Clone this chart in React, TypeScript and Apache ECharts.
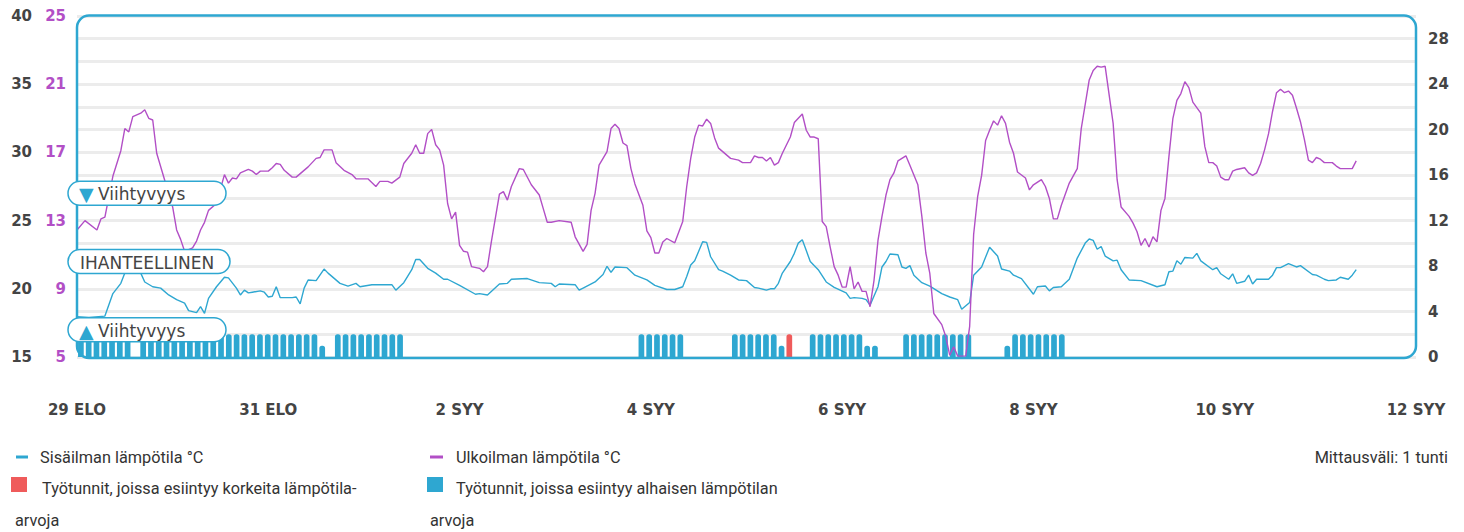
import React, { useEffect, useRef } from 'react';
import * as echarts from 'echarts';

// ---------- data ----------
const MONTH_ABBR = ['TAM', 'HEL', 'MAA', 'HUH', 'TOU', 'KES', 'HEI', 'ELO', 'SYY', 'LOK', 'MAR', 'JOU'];
const START_DATE = { year: 2023, month: 7, day: 29 }; // 29 ELO 00:00
const X_RANGE_HOURS = 336; // 14 days
const X_TICK_HOURS = 48;

// [hours since start, °C]
const indoorTemps: [number, number][] = [
  [0, 17.95], [3, 17.9], [7, 18.0], [9, 19.65], [11, 20.4], [12, 21.15], [14, 21.8], [16, 21.15], [17, 20.5], [19, 20.15],
  [21, 20.05], [23, 19.55], [25, 19.2], [27, 18.95], [28, 18.4], [30, 18.25], [31, 18.7], [32, 18.2], [33, 19.3], [35, 20.15],
  [37, 20.85], [38, 20.8], [40, 20.05], [41, 19.55], [42, 19.9], [43, 19.7], [44, 19.75], [46, 19.85], [47, 19.75], [48, 19.4],
  [49, 19.45], [50, 20.15], [51, 19.35], [53, 19.35], [54, 19.35], [55, 19.4], [56, 18.9], [57, 20.05], [58, 20.65], [60, 20.6],
  [62, 21.45], [63, 21.15], [66, 20.4], [68, 20.2], [70, 20.4], [71, 20.15], [74, 20.3], [79, 20.3], [80, 19.9], [82, 20.45],
  [84, 21.4], [85, 22.15], [86, 22.15], [88, 21.5], [90, 21.15], [92, 20.7], [93, 20.7], [96, 20.25], [100, 19.6], [101, 19.65],
  [103, 19.55], [106, 20.35], [108, 20.4], [109, 20.7], [113, 20.75], [116, 20.45], [119, 20.4], [120, 20.15], [121, 20.35], [125, 20.3],
  [126, 19.9], [127, 20.05], [130, 20.5], [132, 21.05], [133, 21.65], [134, 21.2], [135, 21.6], [138, 21.55], [140, 21.0], [143, 20.65],
  [145, 20.25], [148, 19.95], [150, 19.95], [152, 20.15], [153, 20.9], [154, 21.75], [155, 22.05], [157, 23.45], [158, 23.4], [159, 22.35],
  [161, 21.4], [162, 21.3], [164, 21.0], [166, 20.65], [168, 20.6], [170, 20.1], [171, 20.05], [173, 19.9], [174, 20.0], [175, 20.0],
  [176, 20.4], [177, 21.15], [179, 22.0], [180, 22.6], [181, 23.35], [182, 23.6], [183, 22.8], [184, 22.0], [186, 21.4], [188, 20.5],
  [190, 20.1], [193, 19.7], [194, 19.3], [195, 19.35], [197, 19.3], [198, 19.2], [199, 18.8], [201, 20.15], [202, 21.6], [203, 22.0],
  [204, 22.55], [206, 22.5], [207, 21.6], [208, 21.5], [209, 21.7], [210, 21.0], [212, 20.45], [214, 20.2], [217, 19.65], [219, 19.4],
  [221, 19.2], [222, 18.5], [224, 19.0], [225, 21.0], [227, 21.6], [229, 23.05], [231, 22.4], [232, 21.45], [234, 21.3], [235, 21.0],
  [237, 20.75], [240, 19.6], [241, 20.15], [243, 20.2], [244, 19.85], [245, 20.1], [247, 20.15], [249, 20.7], [251, 22.25], [253, 23.35],
  [254, 23.65], [255, 23.55], [256, 22.9], [257, 23.1], [258, 22.4], [260, 22.05], [261, 22.1], [262, 21.4], [264, 20.65], [267, 20.6],
  [271, 20.15], [273, 20.3], [274, 21.25], [275, 21.3], [276, 22.05], [277, 21.8], [278, 22.3], [280, 22.25], [281, 22.6], [282, 22.05],
  [285, 21.4], [286, 21.55], [287, 21.1], [289, 20.7], [290, 21.1], [291, 20.4], [293, 20.55], [294, 21.0], [295, 20.35], [296, 20.7],
  [299, 20.7], [300, 21.0], [301, 21.55], [302, 21.55], [304, 21.85], [306, 21.6], [307, 21.7], [310, 21.05], [311, 21.0], [313, 20.7],
  [314, 20.6], [316, 20.65], [317, 20.85], [319, 20.7], [320, 21.0], [321, 21.4],
];

const outdoorTemps: [number, number][] = [
  [0, 12.45], [2, 13.0], [5, 12.45], [6, 13.1], [7, 13.2], [9, 15.6], [11, 17.1], [12, 18.4], [13, 18.2], [14, 19.1],
  [16, 19.3], [17, 19.5], [18, 19.0], [19, 18.9], [20, 16.95], [24, 13.8], [25, 12.45], [26, 11.9], [27, 11.2], [29, 11.4],
  [30, 11.8], [31, 12.45], [32, 12.9], [33, 13.6], [35, 14.0], [37, 15.7], [38, 15.2], [39, 15.5], [40, 15.45], [41, 15.8],
  [43, 16.0], [44, 15.9], [45, 15.7], [46, 15.9], [48, 15.9], [49, 16.1], [50, 16.35], [51, 16.3], [52, 15.95], [54, 15.55],
  [55, 15.55], [58, 16.15], [60, 16.65], [61, 16.7], [62, 17.15], [64, 17.15], [65, 16.4], [67, 15.95], [69, 15.7], [70, 15.45],
  [73, 15.45], [75, 15.0], [76, 15.3], [78, 15.3], [79, 15.2], [81, 15.55], [82, 16.35], [84, 16.95], [85, 17.45], [86, 16.95],
  [87, 16.95], [88, 18.1], [89, 18.35], [90, 17.45], [91, 17.15], [92, 16.25], [93, 14.0], [94, 13.1], [95, 13.5], [96, 11.55],
  [97, 11.2], [98, 11.15], [99, 10.3], [101, 10.2], [102, 10.0], [103, 10.3], [104, 11.8], [106, 14.55], [107, 14.7], [108, 14.2],
  [109, 15.0], [111, 16.05], [112, 16.0], [114, 15.1], [116, 14.5], [117, 13.7], [118, 12.9], [119, 12.9], [121, 13.0], [124, 12.9],
  [125, 12.05], [127, 11.2], [128, 11.6], [129, 13.6], [130, 14.6], [131, 16.25], [133, 17.05], [134, 18.4], [135, 18.65], [136, 18.4],
  [137, 17.55], [138, 17.4], [139, 16.05], [140, 15.15], [142, 13.9], [143, 12.4], [144, 12.0], [145, 11.1], [146, 11.1], [147, 11.75],
  [148, 11.95], [150, 11.7], [152, 12.95], [153, 15.0], [154, 16.65], [155, 17.9], [156, 18.6], [157, 18.55], [158, 18.95], [159, 18.7],
  [160, 17.85], [161, 17.25], [164, 16.65], [166, 16.55], [167, 16.4], [169, 16.4], [170, 16.8], [171, 16.7], [172, 16.7], [173, 16.5],
  [174, 16.7], [175, 16.25], [176, 16.4], [177, 16.95], [179, 17.9], [180, 18.75], [182, 19.25], [183, 18.3], [184, 17.9], [185, 17.9],
  [186, 17.8], [187, 12.95], [188, 12.65], [189, 11.45], [190, 10.3], [191, 9.8], [192, 9.1], [193, 9.1], [194, 10.3], [195, 9.0],
  [196, 9.4], [197, 8.85], [198, 8.85], [199, 7.95], [200, 9.5], [201, 11.85], [202, 13.25], [203, 14.5], [204, 15.4], [205, 15.8],
  [206, 16.5], [208, 16.8], [209, 16.25], [211, 15.1], [212, 13.25], [213, 11.1], [214, 9.9], [215, 7.55], [217, 6.9], [218, 6.2],
  [219, 5.1], [220, 5.6], [221, 5.05], [223, 5.05], [224, 6.8], [225, 12.2], [226, 14.4], [227, 15.65], [228, 17.7], [229, 18.3],
  [230, 18.85], [231, 18.6], [232, 19.15], [233, 18.7], [234, 17.6], [235, 16.95], [236, 15.85], [238, 15.5], [239, 14.8], [240, 15.1],
  [242, 15.4], [243, 15.0], [244, 14.3], [245, 13.1], [246, 13.1], [247, 13.9], [249, 15.2], [251, 16.05], [252, 18.4], [254, 21.25],
  [255, 21.8], [256, 22.05], [257, 22.0], [258, 22.05], [260, 18.7], [261, 15.4], [262, 13.8], [264, 13.25], [265, 12.85], [266, 12.35],
  [267, 11.55], [268, 11.95], [269, 11.45], [270, 12.05], [271, 11.75], [272, 13.6], [273, 14.3], [274, 16.75], [275, 19.0], [276, 20.05],
  [277, 20.45], [278, 21.15], [279, 20.8], [280, 19.95], [282, 19.3], [283, 17.35], [284, 16.4], [285, 16.4], [286, 16.2], [287, 15.55],
  [288, 15.4], [289, 15.4], [290, 15.9], [291, 16.0], [293, 16.1], [294, 15.8], [295, 15.65], [296, 15.8], [297, 16.35], [298, 17.15],
  [299, 18.1], [300, 19.4], [301, 20.5], [302, 20.7], [303, 20.5], [304, 20.6], [305, 20.35], [306, 19.6], [307, 18.8], [308, 17.75],
  [309, 16.55], [310, 16.4], [311, 16.7], [312, 16.6], [313, 16.4], [315, 16.4], [316, 16.2], [317, 16.05], [320, 16.05], [321, 16.5],
];

// work-hour slots (172 slots across the chart): value of "low temperature" bars
const lowTempSlots: number[] = [
  2, 2, 2, 2, 2, 2, 2, 0, 2, 2, 2, 2, 2, 2, 2, 2, 2, 2, 2, 2, 2, 2, 2, 2, 2, 2, 2, 2, 2, 2,
  2, 1, 0, 2, 2, 2, 2, 2, 2, 2, 2, 2, 0, 0, 0, 0, 0, 0, 0, 0, 0, 0, 0, 0, 0, 0, 0, 0, 0, 0,
  0, 0, 0, 0, 0, 0, 0, 0, 0, 0, 0, 0, 2, 2, 2, 2, 2, 2, 0, 0, 0, 0, 0, 0, 2, 2, 2, 2, 2, 2,
  1, 0, 0, 0, 2, 2, 2, 2, 2, 2, 2, 1, 1, 0, 0, 0, 2, 2, 2, 2, 2, 2, 2, 2, 2, 0, 0, 0, 0, 1,
  2, 2, 2, 2, 2, 2, 2, 0, 0, 0, 0, 0, 0, 0, 0, 0, 0, 0, 0, 0, 0, 0, 0, 0, 0, 0, 0, 0, 0, 0,
  0, 0, 0, 0, 0, 0, 0, 0, 0, 0, 0, 0, 0, 0, 0, 0, 0, 0, 0, 0, 0, 0,
];
// [slot, value] of "high temperature" bars
const highTempSlots: [number, number][] = [[91, 2]];

const comfortMarks = [
  { value: 27, label: 'Viihtyvyys', icon: '▼' },
  { value: 22, label: 'IHANTEELLINEN', icon: '' },
  { value: 17, label: 'Viihtyvyys', icon: '▲' },
];

const indoorAxis = { min: 15, max: 40, interval: 5 };
const outdoorAxis = { min: 5, max: 25, interval: 4 };
const countAxis = { min: 0, max: 30, interval: 2, labelEvery: 4 };

const legendTexts = {
  indoor: 'Sisäilman lämpötila °C',
  outdoor: 'Ulkoilman lämpötila °C',
  interval: 'Mittausväli: 1 tunti',
  high: ['Työtunnit, joissa esiintyy korkeita lämpötila-', 'arvoja'],
  low: ['Työtunnit, joissa esiintyy alhaisen lämpötilan', 'arvoja'],
};

// ---------- styles ----------
const BLUE = '#2ea7d1';
const PURPLE = '#b24fc6';
const RED = '#ef5b5b';
const AXIS_TEXT = '#444444';
const LEGEND_TEXT = '#333333';

const GRID = { left: 77, right: 48, top: 16, bottom: 175 };

function hourLabel(h: number): string {
  const d = new Date(START_DATE.year, START_DATE.month, START_DATE.day + Math.round(h / 24));
  return d.getDate() + ' ' + MONTH_ABBR[d.getMonth()];
}

export default function App() {
  const ref = useRef<HTMLDivElement>(null);

  useEffect(() => {
    if (!ref.current) return;
    const chart = echarts.init(ref.current, null, { renderer: 'svg' });
    const axisFont = { fontFamily: 'DejaVu Sans', fontWeight: 'bold' as const, fontSize: 15 };

    chart.setOption({
      animation: false,
      grid: { ...GRID, containLabel: false },
      xAxis: [
        {
          type: 'value',
          min: 0,
          max: X_RANGE_HOURS,
          interval: X_TICK_HOURS,
          axisLine: { show: false },
          axisTick: { show: false },
          splitLine: { show: false },
          axisLabel: { ...axisFont, color: AXIS_TEXT, margin: 45, formatter: (v: number) => hourLabel(v) },
        },
        {
          type: 'category',
          show: false,
          boundaryGap: true,
          data: lowTempSlots.map((_, i) => i),
        },
      ],
      yAxis: [
        {
          type: 'value',
          position: 'left',
          ...indoorAxis,
          axisLine: { show: false },
          axisTick: { show: false },
          splitLine: { show: false },
          axisLabel: { ...axisFont, color: AXIS_TEXT, margin: 45 },
        },
        {
          type: 'value',
          position: 'left',
          ...outdoorAxis,
          axisLine: { show: false },
          axisTick: { show: false },
          splitLine: { show: false },
          axisLabel: { ...axisFont, color: PURPLE, margin: 11 },
        },
        {
          type: 'value',
          position: 'right',
          min: countAxis.min,
          max: countAxis.max,
          interval: countAxis.interval,
          axisLine: { show: false },
          axisTick: { show: false },
          splitLine: { show: true, lineStyle: { color: '#ececec', width: 3 } },
          axisLabel: {
            ...axisFont,
            color: AXIS_TEXT,
            margin: 12,
            formatter: (v: number) => (v % countAxis.labelEvery === 0 && v < countAxis.max ? String(v) : ''),
          },
        },
      ],
      series: [
        {
          name: 'low',
          type: 'bar',
          xAxisIndex: 1,
          yAxisIndex: 2,
          barWidth: 5.7,
          barGap: '-100%',
          itemStyle: { color: BLUE, borderRadius: [2.5, 2.5, 0, 0] },
          data: lowTempSlots.map((v) => (v > 0 ? v : '-')),
        },
        {
          name: 'high',
          type: 'bar',
          xAxisIndex: 1,
          yAxisIndex: 2,
          barWidth: 5.7,
          barGap: '-100%',
          itemStyle: { color: RED, borderRadius: [2.5, 2.5, 0, 0] },
          data: highTempSlots,
        },
        {
          name: legendTexts.indoor,
          type: 'line',
          xAxisIndex: 0,
          yAxisIndex: 0,
          showSymbol: false,
          lineStyle: { color: BLUE, width: 1.4 },
          itemStyle: { color: BLUE },
          data: indoorTemps,
        },
        {
          name: legendTexts.outdoor,
          type: 'line',
          xAxisIndex: 0,
          yAxisIndex: 1,
          showSymbol: false,
          lineStyle: { color: PURPLE, width: 1.4 },
          itemStyle: { color: PURPLE },
          data: outdoorTemps,
        },
      ],
    });

    const W = 1464;
    const H = 532;
    const gx = GRID.left;
    const gy = GRID.top;
    const gw = W - GRID.left - GRID.right;
    const gh = H - GRID.top - GRID.bottom;

    const markFont = '17px "DejaVu Sans"';
    const textStyle = (text: string, x: number, y: number, font: string, fill: string, align = 'left') => ({
      text, x, y, font, fill, align, verticalAlign: 'middle', textAlign: align, textVerticalAlign: 'middle',
    });

    const comfortGraphics: any[] = [];
    comfortMarks.forEach((m) => {
      const cy = chart.convertToPixel({ yAxisIndex: 0 }, m.value) as number;
      const boxW = m.icon ? 158 : 162;
      comfortGraphics.push({
        type: 'rect',
        z: 100,
        shape: { x: 68, y: cy - 12, width: boxW, height: 24, r: 12 },
        style: { fill: '#ffffff', stroke: BLUE, lineWidth: 1.5 },
      });
      if (m.icon) {
        comfortGraphics.push({ type: 'text', z: 101, style: textStyle(m.icon, 79, cy + 1, '19px "DejaVu Sans"', BLUE) });
        comfortGraphics.push({ type: 'text', z: 101, style: textStyle(m.label, 98, cy + 1, markFont, AXIS_TEXT) });
      } else {
        comfortGraphics.push({ type: 'text', z: 101, style: textStyle(m.label, 80, cy + 1, markFont, AXIS_TEXT) });
      }
    });

    const legendFont = '16.3px Roboto';
    const txt = (text: string, x: number, y: number, align = 'left') => ({
      type: 'text',
      z: 100,
      style: textStyle(text, x, y, legendFont, LEGEND_TEXT, align),
    });

    chart.setOption({
      graphic: [
        {
          type: 'rect',
          z: 90,
          shape: { x: gx, y: gy - 0.5, width: gw, height: gh + 1.5, r: 12 },
          style: { fill: 'none', stroke: BLUE, lineWidth: 2.5 },
        },
        ...comfortGraphics,
        { type: 'rect', z: 100, shape: { x: 16, y: 455.5, width: 12, height: 3 }, style: { fill: BLUE } },
        txt(legendTexts.indoor, 40, 457),
        { type: 'rect', z: 100, shape: { x: 430, y: 455.5, width: 13, height: 3 }, style: { fill: PURPLE } },
        txt(legendTexts.outdoor, 456, 457),
        txt(legendTexts.interval, 1448, 457, 'right'),
        { type: 'rect', z: 100, shape: { x: 11, y: 477, width: 16, height: 15 }, style: { fill: RED } },
        txt(legendTexts.high[0], 42, 488),
        txt(legendTexts.high[1], 15, 520),
        { type: 'rect', z: 100, shape: { x: 427, y: 477, width: 16, height: 15 }, style: { fill: BLUE } },
        txt(legendTexts.low[0], 456, 488),
        txt(legendTexts.low[1], 430, 520),
      ],
    });

    return () => chart.dispose();
  }, []);

  return <div ref={ref} style={{ position: 'absolute', left: 0, top: 0, width: 1464, height: 532 }} />;
}
